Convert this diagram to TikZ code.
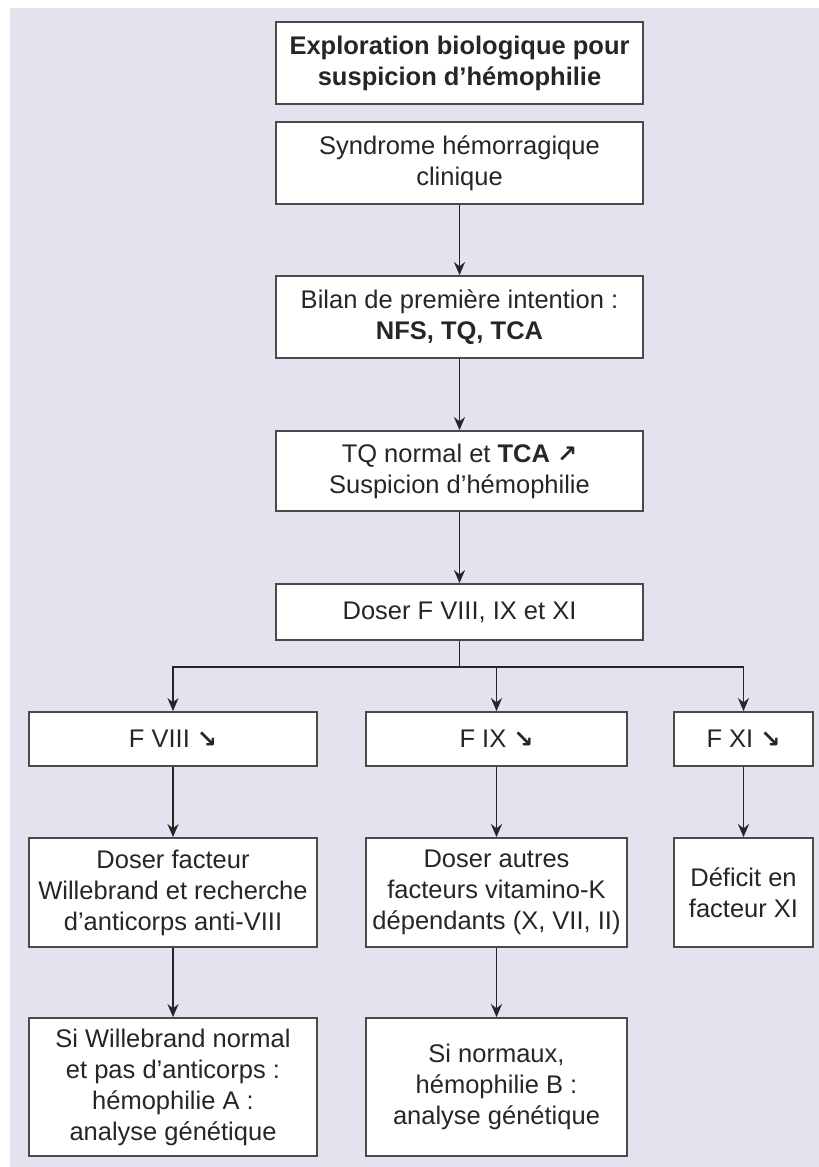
\documentclass[tikz,border=0pt]{standalone}
\usepackage{fontspec}
\setmainfont{Liberation Sans}
\newfontfamily\arrowfont{DejaVu Sans}
\usetikzlibrary{arrows.meta}
\definecolor{panel}{HTML}{E2E3EE}
\definecolor{edge}{HTML}{4A4A4A}
\definecolor{ink}{HTML}{262626}
\newcommand{\dn}{{\arrowfont\fontsize{24}{31}\selectfont\bfseries ↘}}
\newcommand{\up}{{\arrowfont\fontsize{24}{31}\selectfont\bfseries ↗}}

\begin{document}
\begin{tikzpicture}[x=1pt,y=-1pt,
  box/.style={draw=edge,line width=1.8pt,fill=white,align=center,text=ink,
    font=\fontsize{25.5}{31}\selectfont,inner sep=2pt},
  wide/.style={box,minimum width=367pt},
  link/.style={->,>={Stealth[length=13pt,width=11pt]},draw=ink,line width=1.8pt}]
  \useasboundingbox (0,0) rectangle (819,1167);
  \fill[white] (0,0) rectangle (819,1167);
  \fill[panel] (10,8) rectangle (819,1167);
  \node[wide,minimum height=82pt,font=\fontsize{25.5}{31}\selectfont\bfseries] (expl) at (459.5,63)
    {Exploration biologique pour\\suspicion d’hémophilie};
  \node[wide,minimum height=82pt] (synd) at (459.5,163) {Syndrome hémorragique\\clinique};
  \node[wide,minimum height=82pt] (bilan) at (459.5,317)
    {Bilan de première intention :\\\textbf{NFS, TQ, TCA}};
  \node[wide,minimum height=80pt] (tca) at (459.5,471)
    {TQ normal et \textbf{TCA} \up\\Suspicion d’hémophilie};
  \node[wide,minimum height=56pt] (doser) at (459.5,612) {Doser F VIII, IX et XI};
  \coordinate (split) at (459.5,667);
  \node[box,minimum width=288pt,minimum height=54pt] (f8) at (173,739) {F VIII \dn};
  \node[box,minimum width=261pt,minimum height=54pt] (f9) at (496.5,739) {F IX \dn};
  \node[box,minimum width=139pt,minimum height=54pt] (f11) at (743.5,739) {F XI \dn};
  \node[box,minimum width=288pt,minimum height=109pt] (vw) at (173,892.5)
    {Doser facteur\\Willebrand et recherche\\d’anticorps anti-VIII};
  \node[box,minimum width=261pt,minimum height=109pt] (vk) at (496.5,892.5)
    {Doser autres\\facteurs vitamino-K\\dépendants (X, VII, II)};
  \node[box,minimum width=139pt,minimum height=109pt] (def) at (743.5,892.5)
    {Déficit en\\facteur XI};
  \node[box,minimum width=288pt,minimum height=138pt] (hA) at (173,1087)
    {Si Willebrand normal\\et pas d’anticorps :\\hémophilie A :\\analyse génétique};
  \node[box,minimum width=261pt,minimum height=138pt] (hB) at (496.5,1087)
    {Si normaux,\\hémophilie B :\\analyse génétique};
  \draw[link] (synd) -- (bilan);
  \draw[link] (bilan) -- (tca);
  \draw[link] (tca) -- (doser);
  \draw[ink,line width=1.8pt] (doser) -- (split);
  \draw[link] (split) -| (f8);
  \draw[link] (split) -| (f9);
  \draw[link] (split) -| (f11);
  \draw[link] (f8) -- (vw);
  \draw[link] (f9) -- (vk);
  \draw[link] (f11) -- (def);
  \draw[link] (vw) -- (hA);
  \draw[link] (vk) -- (hB);
\end{tikzpicture}
\end{document}
